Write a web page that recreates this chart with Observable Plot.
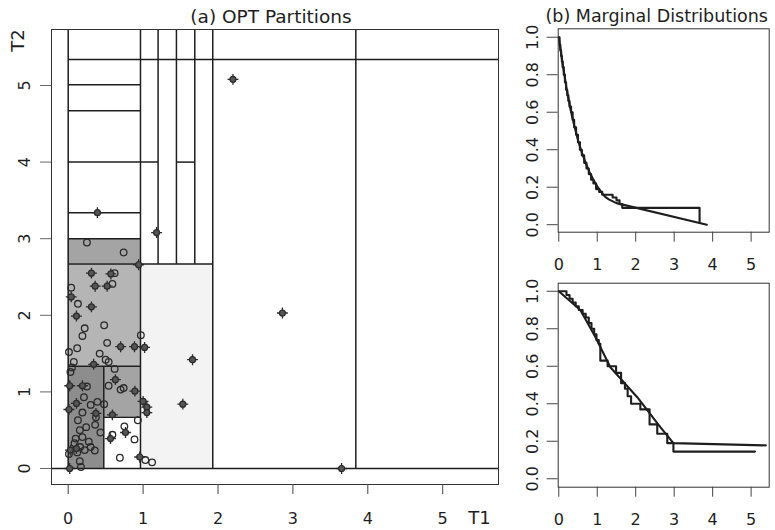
<!DOCTYPE html>
<html>
<head>
<meta charset="utf-8">
<script src="https://cdn.jsdelivr.net/npm/d3@7"></script>
<script src="https://cdn.jsdelivr.net/npm/@observablehq/plot@0.6"></script>
<style>
  body { margin: 0; background: white; }
  #wrap { position: relative; width: 775px; height: 530px; background: white; overflow: hidden; }
  #wrap svg { position: absolute; overflow: visible; }
</style>
</head>
<body>
<div id="wrap"></div>
<script>
// ---------- Data: panel (a) ----------
const X_MIN = -0.223, X_MAX = 5.745;   // plotting region of T1
const Y_MIN = -0.209, Y_MAX = 5.731;   // plotting region of T2
const axisTicks = [0, 1, 2, 3, 4, 5];

// partition cells with a density rank (0 = lowest)
const cellX1 = [0,     0.475, 0,     0,     0.965, 0.475];
const cellX2 = [0.475, 0.965, 0.965, 0.965, 1.93,  0.965];
const cellY1 = [0,     0.67,  2.67,  1.335, 0,     0];
const cellY2 = [1.335, 1.335, 3.0,   2.67,  2.67,  0.67];
const cellRank = [5, 4, 4, 3, 1, 0];

// partition boundary segments
const segX1 = [0, 0.965, 1.2, 1.445, 1.69, 1.93, 3.84, 0.475, X_MIN, 0,     0,    0,    0,    0,    0,   0,     1.445, 0,    0.475];
const segX2 = [0, 0.965, 1.2, 1.445, 1.69, 1.93, 3.84, 0.475, X_MAX, X_MAX, 0.965,0.965,0.965,0.965,1.2, 1.93,  1.69,  0.965,0.965];
const segY1 = [0, 0,     2.67,2.67,  2.67, 0,    0,    0,     0,     5.34,  5.01, 4.67, 3.34, 3.0,  4.0, 2.67,  4.0,   1.335,0.67];
const segY2 = [Y_MAX, Y_MAX, Y_MAX, Y_MAX, Y_MAX, Y_MAX, Y_MAX, 1.335, 0, 5.34, 5.01, 4.67, 3.34, 3.0, 4.0, 2.67, 4.0, 1.335, 0.67];

// observations: plain circles
const obsT1 = [0.25,0.74,0.62,0.59,0.04,0.13,0.22,0.48,0.19,0.97,0.52,0.12,0.01,0.42,0.50,0.54,0.075,0.05,0.62,0.03,0.25,0.54,0.70,0.74,0.21,0.30,0.39,0.48,0.19,0.13,0.37,0.93,0.24,0.36,0.75,0.43,0.155,0.59,0.885,0.10,0.19,0.085,0.275,0.16,0.30,0.355,0.22,0.69,1.03,1.12,0.155,0.17,0.12,0.01];
const obsT2 = [2.95,2.82,2.55,2.41,2.36,2.15,1.83,1.87,1.73,1.74,1.64,1.57,1.52,1.50,1.42,1.39,1.39,1.32,1.30,1.26,1.07,1.08,1.03,1.05,0.93,0.83,0.87,0.84,0.73,0.63,0.67,0.63,0.54,0.57,0.55,0.47,0.50,0.44,0.38,0.39,0.41,0.33,0.35,0.28,0.28,0.235,0.24,0.14,0.11,0.08,0.095,0.02,0.21,0.19];
// observations: crossed circles
const crsT1 = [1.18,0.94,0.31,0.57,0.36,0.52,0.04,0.31,0.11,0.70,0.885,1.02,0.34,1.66,0.63,0.02,0.19,0.89,0.11,1.00,1.53,0.01,0.37,1.05,1.05,0.59,0.765,0.565,0.03,0.11,0.955,0.02,2.20,2.86,0.39,3.65];
const crsT2 = [3.08,2.66,2.55,2.54,2.38,2.38,2.24,2.11,1.99,1.59,1.59,1.58,1.36,1.42,1.16,1.08,1.08,1.01,0.85,0.875,0.84,0.77,0.72,0.80,0.73,0.70,0.47,0.39,0.24,0.26,0.15,0.0,5.08,2.03,3.34,0.0];

// ---------- Data: panel (b) ----------
const M_X_MIN = -0.015, M_X_MAX = 5.47;
const survTicks = [0, 0.2, 0.4, 0.6, 0.8, 1.0];
// T1 marginal
const t1SmoothT = [0, 0.1, 0.2, 0.3, 0.4, 0.5, 0.6, 0.7, 0.8, 0.9, 1.0, 1.1, 1.2, 1.3, 1.5, 3.85];
const t1SmoothS = [1.0, 0.86, 0.73, 0.62, 0.53, 0.45, 0.385, 0.33, 0.28, 0.24, 0.205, 0.175, 0.15, 0.135, 0.115, 0.0];
const t1StepT = [0, 0.02, 0.04, 0.06, 0.08, 0.10, 0.13, 0.16, 0.19, 0.22, 0.25, 0.28, 0.32, 0.36, 0.40, 0.45, 0.50, 0.55, 0.60, 0.66, 0.72, 0.78, 0.84, 0.90, 0.97, 1.05, 1.13, 1.40, 1.50, 1.58, 1.65, 3.66];
const t1StepS = [1.0, 0.96, 0.93, 0.90, 0.87, 0.84, 0.80, 0.76, 0.72, 0.69, 0.66, 0.63, 0.60, 0.56, 0.52, 0.48, 0.44, 0.40, 0.37, 0.33, 0.30, 0.27, 0.24, 0.22, 0.19, 0.175, 0.16, 0.145, 0.13, 0.11, 0.09, 0.012];
// T2 marginal
const t2SmoothT = [0, 0.56, 0.955, 1.34, 2.04, 2.64, 2.98, 5.38];
const t2SmoothS = [1.0, 0.90, 0.755, 0.595, 0.435, 0.275, 0.19, 0.178];
const t2StepT = [0, 0.2, 0.28, 0.36, 0.44, 0.52, 0.62, 0.70, 0.78, 0.85, 0.92, 0.98, 1.04, 1.08, 1.27, 1.49, 1.62, 1.72, 1.79, 1.88, 2.12, 2.36, 2.56, 2.82, 2.98, 5.1];
const t2StepS = [1.0, 0.98, 0.96, 0.94, 0.92, 0.90, 0.88, 0.86, 0.83, 0.80, 0.77, 0.74, 0.72, 0.63, 0.60, 0.565, 0.51, 0.48, 0.44, 0.40, 0.37, 0.29, 0.24, 0.19, 0.145, 0.145];

// ---------- Build tables ----------
const cells = cellX1.map((_, i) => ({x1: cellX1[i], x2: cellX2[i], y1: cellY1[i], y2: cellY2[i], rank: cellRank[i]}));
const segs = segX1.map((_, i) => ({x1: segX1[i], x2: segX2[i], y1: segY1[i], y2: segY2[i]}));
const obs = obsT1.map((t, i) => ({t1: t, t2: obsT2[i]}));
const crs = crsT1.map((t, i) => ({t1: t, t2: crsT2[i]}));
const zip = (a, b) => a.map((t, i) => ({t, s: b[i]}));

const INK = "#1e1e1e";
const FONT = "DejaVu Sans, Liberation Sans, sans-serif";
const intFmt = d3.format("d");
const wrap = document.getElementById("wrap");

function place(svg, left, top) {
  svg.style.left = left + "px";
  svg.style.top = top + "px";
  wrap.appendChild(svg);
}

// ---------- Panel (a) ----------
const pa = Plot.plot({
  width: 520, height: 530,
  marginLeft: 51, marginRight: 22, marginTop: 29, marginBottom: 46,
  style: {fontFamily: FONT, fontSize: "16px", color: INK, background: "transparent"},
  x: {domain: [X_MIN, X_MAX]},
  y: {domain: [Y_MIN, Y_MAX]},
  color: {type: "ordinal", domain: [0, 1, 2, 3, 4, 5], range: ["#ffffff", "#f3f3f3", "#d0d0d0", "#b5b5b5", "#a4a4a4", "#8d8d8d"]},
  marks: [
    Plot.rect(cells, {x1: "x1", x2: "x2", y1: "y1", y2: "y2", fill: "rank"}),
    Plot.link(segs, {x1: "x1", x2: "x2", y1: "y1", y2: "y2", stroke: INK, strokeWidth: 1.5}),
    Plot.dot(obs, {x: "t1", y: "t2", r: 3.3, stroke: "#2a2a2a", strokeWidth: 1.3, fill: "none"}),
    Plot.dot(crs, {x: "t1", y: "t2", symbol: "plus", r: 3.6, stroke: "#2a2a2a", strokeWidth: 1.3}),
    Plot.dot(crs, {x: "t1", y: "t2", r: 3, stroke: "#2a2a2a", strokeWidth: 1.2, fill: "#555"}),
    Plot.frame({stroke: "#333", strokeWidth: 1}),
    Plot.axisX({ticks: axisTicks, tickFormat: intFmt, tickSize: 10, tickPadding: 18, label: null, stroke: "#444"}),
    Plot.axisY({ticks: axisTicks, tickFormat: intFmt, tickSize: 11, tickPadding: 11, tickRotate: -90, label: null, stroke: "#666"}),
    Plot.text(["(a) OPT Partitions"], {frameAnchor: "top", dx: -4, dy: -7, lineAnchor: "bottom", fontSize: 18.5, fill: INK}),
    Plot.text(["T2"], {frameAnchor: "top-left", dx: -33, dy: 11, rotate: -90, textAnchor: "middle", lineAnchor: "middle", fontSize: 18, fill: INK}),
    Plot.text(["T1"], {frameAnchor: "bottom-right", dx: -19, dy: 34, textAnchor: "middle", lineAnchor: "middle", fontSize: 18, fill: INK})
  ]
});
place(pa, 0, 0);

// ---------- Panel (b) ----------
function marginal(smooth, step, opts, extra) {
  return Plot.plot({
    width: 275, height: opts.height,
    marginLeft: 57.7, marginRight: 6.3, marginTop: opts.mt, marginBottom: opts.mb,
    style: {fontFamily: FONT, fontSize: "16px", color: INK, background: "transparent"},
    x: {domain: [M_X_MIN, M_X_MAX]},
    y: {domain: opts.ydom},
    marks: [
      Plot.line(smooth, {x: "t", y: "s", stroke: INK, strokeWidth: 2.1}),
      Plot.line(step, {x: "t", y: "s", curve: "step-after", stroke: INK, strokeWidth: 2.1}),
      Plot.frame({stroke: "#333", strokeWidth: 1}),
      Plot.axisX({ticks: axisTicks, tickFormat: intFmt, tickSize: 10, tickPadding: 16, label: null, stroke: "#444"}),
      Plot.axisY({ticks: survTicks, tickFormat: d3.format(".1f"), tickSize: 11, tickPadding: 9, tickRotate: -90, label: null, stroke: "#444"}),
      ...extra
    ]
  });
}

const pb1 = marginal(zip(t1SmoothT, t1SmoothS), zip(t1StepT, t1StepS),
  {height: 280, mt: 28.3, mb: 48.3, ydom: [-0.04, 1.045]},
  [Plot.text(["(b) Marginal Distributions"], {frameAnchor: "top", dx: -7, dy: -6.6, lineAnchor: "bottom", fontSize: 17.5, fill: INK})]);
place(pb1, 500, 0);

const pb2 = marginal(zip(t2SmoothT, t2SmoothS), zip(t2StepT, t2StepS),
  {height: 270, mt: 22.7, mb: 43.3, ydom: [-0.045, 1.043]}, []);
place(pb2, 500, 260);
</script>
</body>
</html>
